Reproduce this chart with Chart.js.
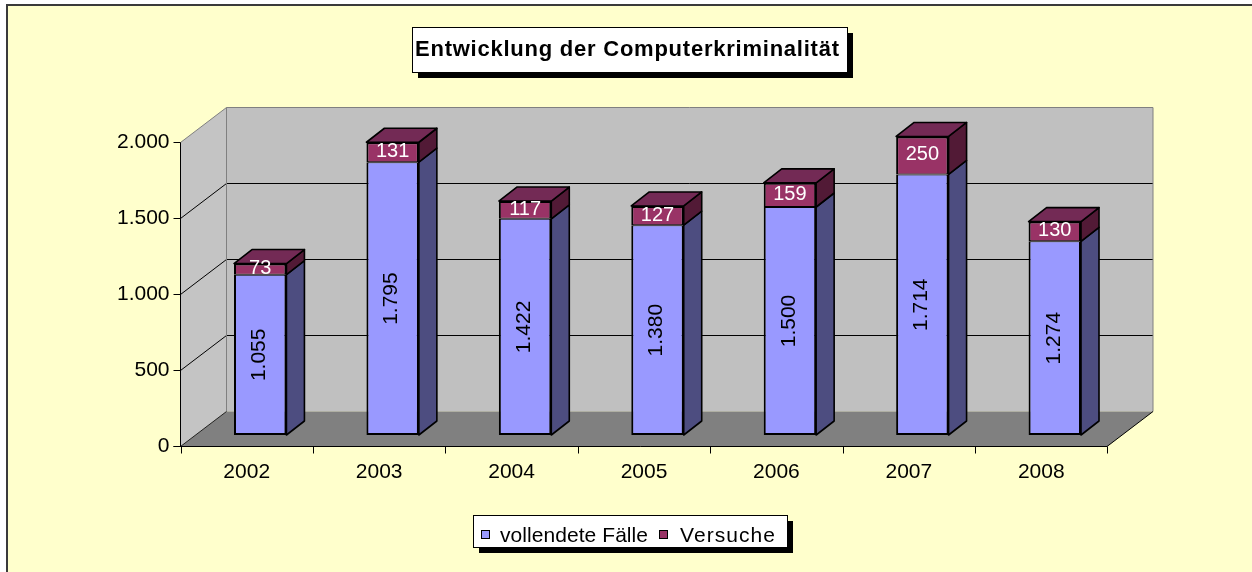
<!DOCTYPE html>
<html>
<head>
<meta charset="utf-8">
<script src="https://cdn.jsdelivr.net/npm/chart.js@4.4.0/dist/chart.umd.min.js"></script>
<style>
html,body{margin:0;padding:0;background:#fff;}
</style>
</head>
<body>
<canvas id="mygraph" width="1252" height="572"></canvas>
<script>
let years = ["2002", "2003", "2004", "2005", "2006", "2007", "2008"];
let vollendet = [1055, 1795, 1422, 1380, 1500, 1714, 1274];
let versuche = [73, 131, 117, 127, 159, 250, 130];
let yTicks = [0, 500, 1000, 1500, 2000];
let seriesNames = ["vollendete Fälle", "Versuche"];
let chartTitle = "Entwicklung der Computerkriminalität";

const FONT = "Arial, 'Liberation Sans', sans-serif";
const OFF = {x: 14, y: -11};     // bar plane relative to front edge
const DEPTH = {x: 46, y: -35};   // front edge -> back wall
const BAR_D = {x: 18, y: -14};   // depth of one bar

function fmt(n) {
  return String(n).replace(/\B(?=(\d{3})+(?!\d))/g, ".");
}

function poly(ctx, pts, fill, stroke, lw) {
  ctx.beginPath();
  ctx.moveTo(pts[0][0], pts[0][1]);
  for (let i = 1; i < pts.length; i++) ctx.lineTo(pts[i][0], pts[i][1]);
  ctx.closePath();
  if (fill) { ctx.fillStyle = fill; ctx.fill(); }
  if (stroke) { ctx.strokeStyle = stroke; ctx.lineWidth = lw || 1; ctx.stroke(); }
}

function line(ctx, x1, y1, x2, y2, color, lw) {
  ctx.beginPath();
  ctx.moveTo(x1, y1);
  ctx.lineTo(x2, y2);
  ctx.strokeStyle = color;
  ctx.lineWidth = lw || 1;
  ctx.stroke();
}

// text stretched to the width excel gives it
function spaced(ctx, txt, x, y, width) {
  ctx.letterSpacing = "0px";
  let w = ctx.measureText(txt).width;
  let sp = Math.max(0, (width - w) / (txt.length - 1));
  ctx.letterSpacing = sp + "px";
  ctx.textAlign = "left";
  ctx.fillText(txt, x, y);
  ctx.letterSpacing = "0px";
}

function shadowBox(ctx, x, y, w, h) {
  ctx.fillStyle = "#000";
  ctx.fillRect(x + 6, y + 6, w, h);
  ctx.fillStyle = "#fff";
  ctx.fillRect(x, y, w, h);
  ctx.strokeStyle = "#000";
  ctx.lineWidth = 1;
  ctx.strokeRect(x + 0.5, y + 0.5, w, h);
}

const excel3d = {
  id: "excel3d",
  beforeDraw(chart) {
    const ctx = chart.ctx, xs = chart.scales.x, ys = chart.scales.y;
    ctx.save();
    ctx.fillStyle = "#fff";
    ctx.fillRect(0, 0, chart.width, chart.height);
    ctx.fillStyle = "#FFFFCC";
    ctx.fillRect(8, 6, chart.width, chart.height);
    ctx.beginPath();
    ctx.moveTo(7, chart.height); ctx.lineTo(7, 5); ctx.lineTo(chart.width, 5);
    ctx.strokeStyle = "#3a3a3a"; ctx.lineWidth = 2; ctx.stroke();

    const catW = xs.getPixelForValue(1) - xs.getPixelForValue(0);
    const fL = Math.round(xs.getPixelForValue(0) - catW / 2 - OFF.x) + 0.5;
    const fR = xs.getPixelForValue(years.length - 1) + catW / 2 - OFF.x;
    const fy = v => Math.round(ys.getPixelForValue(v) - OFF.y) + 0.5;
    const by = v => fy(v) + DEPTH.y;
    const bL = fL + DEPTH.x, bR = fR + DEPTH.x;
    const top = ys.max;

    // walls + floor
    poly(ctx, [[fL, fy(top)], [bL, by(top)], [bL, by(0)], [fL, fy(0)]], "#C4C4C4");
    poly(ctx, [[bL, by(top)], [bR, by(top)], [bR, by(0)], [bL, by(0)]], "#C0C0C0");
    poly(ctx, [[fL, fy(0)], [bL, by(0)], [bR, by(0)], [fR, fy(0)]], "#808080");

    // gridlines
    yTicks.forEach(v => {
      if (v === 0 || v === top) return;
      line(ctx, fL, fy(v), bL, by(v), "#000");
      line(ctx, bL, by(v), bR, by(v), "#000");
    });
    // wall edges
    line(ctx, fL, fy(top), bL, by(top), "#808080");
    line(ctx, bL, by(top), bR, by(top), "#808080");
    line(ctx, bR, by(top), bR, by(0), "#808080");
    line(ctx, bL, by(top), bL, by(0), "#808080");
    line(ctx, fL, fy(0), bL, by(0), "#202020");
    line(ctx, fR, fy(0), bR, by(0), "#000");

    // axes
    line(ctx, fL, fy(top), fL, fy(0), "#000");
    line(ctx, fL - 7, fy(0), fR, fy(0), "#000");

    ctx.fillStyle = "#000";
    ctx.font = "21px " + FONT;
    ctx.textAlign = "right";
    ctx.textBaseline = "alphabetic";
    yTicks.forEach(v => {
      line(ctx, fL - 7, fy(v), fL, fy(v), "#000");
      ctx.fillText(fmt(v), fL - 11, fy(v) + 5);
    });
    ctx.textAlign = "center";
    for (let i = 0; i <= years.length; i++) {
      let x = Math.round(fL + i * catW) + 0.5;
      line(ctx, x, fy(0), x, fy(0) + 7, "#000");
    }
    years.forEach((yr, i) => {
      ctx.fillText(yr, fL + (i + 0.5) * catW, fy(0) + 31);
    });

    // title
    shadowBox(ctx, 412, 27, 435, 45);
    ctx.fillStyle = "#000";
    ctx.font = "bold 22px " + FONT;
    spaced(ctx, chartTitle, 415, 56, 424);

    // legend
    shadowBox(ctx, 473, 515, 314, 32);
    ctx.font = "21px " + FONT;
    const cols = ["#9999FF", "#993366"];
    const sqX = [481, 659], txX = [500, 680], txW = [148, 95];
    seriesNames.forEach((name, i) => {
      ctx.fillStyle = cols[i];
      ctx.fillRect(sqX[i] + 0.5, 530.5, 8, 8);
      ctx.strokeStyle = "#000"; ctx.lineWidth = 1;
      ctx.strokeRect(sqX[i] + 0.5, 530.5, 8, 8);
      ctx.fillStyle = "#000";
      spaced(ctx, name, txX[i], 542, txW[i]);
    });
    ctx.restore();
  },
  afterDatasetsDraw(chart) {
    const ctx = chart.ctx;
    const m0 = chart.getDatasetMeta(0), m1 = chart.getDatasetMeta(1);
    ctx.save();
    ctx.lineJoin = "round";
    const side = (r, t, b, col) => poly(ctx,
      [[r, t], [r + BAR_D.x, t + BAR_D.y], [r + BAR_D.x, b + BAR_D.y], [r, b]], col, "#000", 1.6);
    years.forEach((yr, i) => {
      const b0 = m0.data[i].getProps(["x", "y", "base", "width"], true);
      const b1 = m1.data[i].getProps(["x", "y", "base", "width"], true);
      const l = b0.x - b0.width / 2, r = b0.x + b0.width / 2;
      side(r, b0.y, b0.base, "#4D4D80");
      side(r, b1.y, b1.base, "#521A36");
      poly(ctx, [[l, b1.y], [l + BAR_D.x, b1.y + BAR_D.y], [r + BAR_D.x, b1.y + BAR_D.y], [r, b1.y]],
        "#732A55", "#000", 1.6);

      // value labels
      ctx.font = "21px " + FONT;
      ctx.textAlign = "center";
      ctx.fillStyle = "#000";
      ctx.save();
      ctx.translate(b0.x - 1, (b0.y + b0.base) / 2);
      ctx.rotate(-Math.PI / 2);
      ctx.textBaseline = "middle";
      ctx.fillText(fmt(vollendet[i]), 0, 0);
      ctx.restore();
      ctx.font = "20px " + FONT;
      ctx.fillStyle = "#fff";
      ctx.textBaseline = "alphabetic";
      ctx.fillText(fmt(versuche[i]), b1.x, (b1.y + b1.base) / 2 + 5);
    });
    ctx.restore();
  }
};

var ctx = document.getElementById("mygraph");
var mygraph = new Chart(ctx, {
  type: "bar",
  data: {
    labels: years,
    datasets: [
      {
        label: seriesNames[0],
        data: vollendet,
        backgroundColor: "#9999FF",
        borderColor: "#000",
        borderWidth: {left: 2, right: 2, bottom: 2, top: 1},
        borderSkipped: false,
        barPercentage: 0.396,
        categoryPercentage: 1
      },
      {
        label: seriesNames[1],
        data: versuche,
        backgroundColor: "#993366",
        borderColor: "#000",
        borderWidth: {left: 2, right: 2, top: 2, bottom: 1},
        borderSkipped: false,
        barPercentage: 0.396,
        categoryPercentage: 1
      }
    ]
  },
  options: {
    responsive: false,
    animation: false,
    devicePixelRatio: 1,
    layout: {padding: {left: 194, right: 131, top: 131, bottom: 137}},
    scales: {
      x: {display: false, stacked: true},
      y: {display: false, stacked: true, min: 0, max: 2000, ticks: {stepSize: 500}}
    },
    plugins: {
      legend: {display: false},
      title: {display: false},
      tooltip: {enabled: false}
    }
  },
  plugins: [excel3d]
});
</script>
</body>
</html>
